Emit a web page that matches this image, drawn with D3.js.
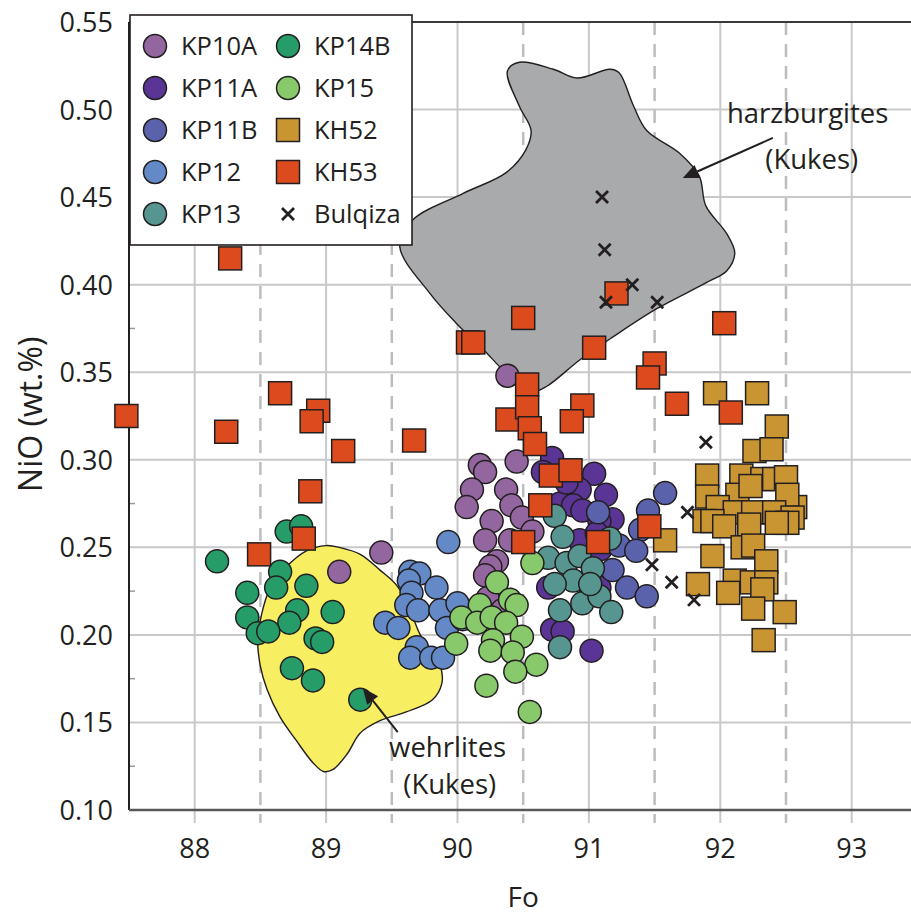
<!DOCTYPE html>
<html>
<head>
<meta charset="utf-8">
<script src="https://cdn.jsdelivr.net/npm/d3@7"></script>
<style>
  body { margin: 0; background: #fff; }
  text { font-family: "Open Sans", "Noto Sans", sans-serif; fill: #231f20; }
</style>
</head>
<body>
<svg id="chart" width="911" height="917"></svg>
<script>
// Olivine compositions: [Fo, NiO wt.%]
const KP10A = [[90.38,0.348],[90.17,0.297],[90.21,0.293],[90.45,0.299],[90.11,0.283],[90.37,0.283],[90.07,0.273],[90.41,0.274],[90.26,0.265],[90.49,0.267],[90.21,0.254],[90.40,0.254],[90.57,0.259],[90.30,0.242],[90.25,0.239],[90.21,0.234],[90.23,0.221],[90.18,0.213],[89.42,0.247],[89.10,0.236],[90.34,0.214]];
const KP11A = [[90.72,0.301],[90.65,0.293],[91.04,0.292],[90.93,0.283],[91.13,0.280],[90.78,0.275],[90.88,0.274],[90.95,0.271],[91.18,0.266],[91.08,0.265],[90.83,0.287],[90.93,0.254],[91.06,0.258],[91.09,0.249],[90.69,0.227],[91.08,0.227],[91.01,0.227],[90.72,0.203],[90.80,0.202],[91.02,0.191]];
const KP11B = [[91.39,0.260],[91.07,0.270],[91.58,0.281],[91.45,0.271],[91.23,0.251],[91.36,0.248],[91.18,0.237],[91.29,0.227],[91.44,0.222]];
const KP12 = [[89.93,0.253],[89.64,0.236],[89.71,0.235],[89.63,0.231],[89.65,0.224],[89.84,0.227],[89.61,0.217],[89.70,0.214],[89.87,0.214],[90.00,0.218],[89.45,0.207],[89.55,0.204],[89.92,0.204],[90.04,0.209],[89.69,0.193],[89.64,0.187],[89.80,0.187],[89.89,0.187]];
const KP13 = [[90.74,0.268],[90.80,0.256],[90.69,0.244],[90.83,0.241],[90.93,0.245],[91.03,0.238],[91.16,0.255],[90.88,0.231],[90.78,0.214],[90.95,0.218],[91.08,0.222],[91.17,0.213],[90.78,0.193],[90.74,0.229],[91.01,0.229]];
const KP14B = [[88.17,0.242],[88.70,0.259],[88.81,0.262],[88.65,0.236],[88.62,0.227],[88.40,0.224],[88.85,0.228],[88.78,0.214],[88.72,0.207],[89.05,0.213],[88.40,0.210],[88.48,0.201],[88.56,0.202],[88.92,0.198],[88.97,0.196],[88.74,0.181],[88.90,0.174],[89.26,0.163]];
const KP15 = [[90.57,0.241],[90.30,0.230],[90.40,0.220],[90.45,0.217],[90.17,0.217],[90.03,0.210],[90.15,0.207],[90.26,0.210],[90.37,0.207],[90.49,0.199],[90.27,0.197],[89.99,0.195],[90.25,0.191],[90.42,0.190],[90.60,0.183],[90.44,0.179],[90.22,0.171],[90.55,0.156]];
const KH52 = [[91.96,0.338],[92.28,0.338],[92.43,0.319],[92.26,0.305],[92.39,0.306],[91.90,0.291],[92.16,0.291],[92.32,0.289],[92.41,0.289],[92.50,0.290],[91.90,0.279],[92.13,0.280],[92.23,0.285],[92.57,0.273],[92.51,0.280],[91.98,0.273],[92.11,0.270],[92.25,0.270],[92.41,0.270],[92.55,0.267],[91.88,0.265],[91.94,0.265],[92.03,0.262],[92.51,0.264],[92.43,0.264],[92.22,0.263],[92.17,0.250],[92.25,0.251],[91.94,0.245],[92.35,0.242],[92.11,0.231],[92.24,0.230],[92.35,0.230],[91.83,0.229],[92.06,0.224],[92.32,0.226],[92.25,0.215],[92.49,0.213],[92.33,0.197],[91.58,0.254]];
const KH53 = [[87.48,0.325],[88.27,0.415],[88.24,0.316],[88.65,0.338],[88.94,0.328],[88.89,0.322],[89.13,0.305],[88.88,0.282],[88.49,0.246],[88.83,0.255],[89.67,0.311],[90.08,0.367],[90.12,0.367],[90.50,0.381],[91.04,0.364],[91.21,0.395],[92.03,0.378],[91.50,0.355],[91.45,0.347],[90.53,0.343],[90.38,0.323],[90.53,0.330],[90.55,0.318],[90.59,0.309],[90.95,0.331],[90.87,0.322],[91.67,0.332],[92.08,0.327],[91.46,0.262],[91.07,0.253],[90.50,0.253],[90.63,0.274],[90.71,0.291],[90.86,0.294]];
const Bulqiza = [[91.10,0.45],[91.12,0.42],[91.33,0.40],[91.13,0.39],[91.52,0.39],[91.89,0.31],[91.75,0.27],[91.48,0.24],[91.63,0.23],[91.80,0.22]];

// Compositional fields of the Kukes peridotites
const harzburgiteField = [[90.38,0.522],[90.47,0.527],[90.73,0.523],[90.91,0.518],[91.16,0.523],[91.23,0.521],[91.34,0.502],[91.44,0.488],[91.69,0.475],[91.84,0.462],[91.89,0.445],[92.05,0.429],[92.11,0.418],[92.05,0.408],[91.89,0.401],[91.51,0.386],[91.18,0.370],[90.93,0.357],[90.68,0.342],[90.58,0.339],[90.45,0.344],[90.17,0.365],[89.99,0.378],[89.79,0.395],[89.56,0.422],[89.66,0.437],[90.04,0.452],[90.37,0.464],[90.52,0.477],[90.56,0.488],[90.47,0.502]];
const wehrliteField = [[89.00,0.251],[88.85,0.248],[88.70,0.239],[88.57,0.226],[88.51,0.212],[88.48,0.197],[88.50,0.182],[88.55,0.169],[88.65,0.153],[88.77,0.140],[88.90,0.127],[88.98,0.122],[89.05,0.123],[89.16,0.132],[89.26,0.144],[89.41,0.151],[89.61,0.156],[89.81,0.163],[89.88,0.172],[89.87,0.182],[89.79,0.191],[89.71,0.201],[89.64,0.214],[89.54,0.228],[89.41,0.237],[89.26,0.246],[89.10,0.250]];

// Axis ticks
const xTicks = [88, 89, 90, 91, 92, 93];
const xHalfTicks = [88.5, 89.5, 90.5, 91.5, 92.5];
const yTicks = [0.10, 0.15, 0.20, 0.25, 0.30, 0.35, 0.40, 0.45, 0.50, 0.55];
const yMinorTicks = [0.125, 0.175, 0.225, 0.275, 0.325, 0.375, 0.425, 0.475, 0.525];

const series = [
  { name: "KP10A", data: KP10A, shape: "circle", color: "#94669f" },
  { name: "KP11A", data: KP11A, shape: "circle", color: "#5b3596" },
  { name: "KP11B", data: KP11B, shape: "circle", color: "#5a62ab" },
  { name: "KP12",  data: KP12,  shape: "circle", color: "#6389c7" },
  { name: "KP13",  data: KP13,  shape: "circle", color: "#579690" },
  { name: "KP14B", data: KP14B, shape: "circle", color: "#269c69" },
  { name: "KP15",  data: KP15,  shape: "circle", color: "#88c96b" },
  { name: "KH52",  data: KH52,  shape: "square", color: "#c99532" },
  { name: "KH53",  data: KH53,  shape: "square", color: "#dc4b1e" },
  { name: "Bulqiza", data: Bulqiza, shape: "cross", color: "#231f20" }
];

const W = 911, H = 917;
const svg = d3.select("#chart");
const x = d3.scaleLinear().domain([87.5, 93.5]).range([129, 917.4]);
const y = d3.scaleLinear().domain([0.10, 0.55]).range([810, 22]);
const plotLeft = x.range()[0], plotBottom = y.range()[0], plotTop = y.range()[1];

// Gridlines
const grid = svg.append("g");
grid.selectAll(".hg").data(yTicks.slice(1)).join("line")
  .attr("x1", plotLeft).attr("x2", W).attr("y1", d => y(d)).attr("y2", d => y(d))
  .attr("stroke", "#c9c9cb").attr("stroke-width", 2);
grid.selectAll(".vg").data(xTicks).join("line")
  .attr("x1", d => x(d)).attr("x2", d => x(d)).attr("y1", plotTop).attr("y2", plotBottom + 13)
  .attr("stroke", "#c9c9cb").attr("stroke-width", 2);
grid.selectAll(".vd").data(xHalfTicks).join("line")
  .attr("x1", d => x(d)).attr("x2", d => x(d)).attr("y1", plotTop).attr("y2", plotBottom + 13)
  .attr("stroke", "#bdbdc0").attr("stroke-width", 2.5).attr("stroke-dasharray", "13,9");

// Minor ticks on the NiO axis
svg.selectAll(".ymin").data(yMinorTicks).join("line")
  .attr("x1", plotLeft).attr("x2", plotLeft + 6).attr("y1", d => y(d)).attr("y2", d => y(d))
  .attr("stroke", "#9a9a9a").attr("stroke-width", 1.5);

// Fields
const fieldLine = d3.line().x(d => x(d[0])).y(d => y(d[1])).curve(d3.curveCatmullRomClosed.alpha(0.5));
svg.append("path").attr("d", fieldLine(harzburgiteField))
  .attr("fill", "#a9aaac").attr("stroke", "#231f20").attr("stroke-width", 1.4);
svg.append("path").attr("d", fieldLine(wehrliteField))
  .attr("fill", "#f7ee62").attr("stroke", "#231f20").attr("stroke-width", 1.4);

// Frame
svg.append("line").attr("x1", plotLeft).attr("x2", W).attr("y1", plotTop).attr("y2", plotTop)
  .attr("stroke", "#3a3a3a").attr("stroke-width", 2);
svg.append("line").attr("x1", plotLeft).attr("x2", plotLeft).attr("y1", plotTop).attr("y2", plotBottom)
  .attr("stroke", "#231f20").attr("stroke-width", 2);
svg.append("line").attr("x1", plotLeft).attr("x2", W).attr("y1", plotBottom).attr("y2", plotBottom)
  .attr("stroke", "#58585a").attr("stroke-width", 2.5);

// Markers
const R = 11.5, S = 23, C = 6;
function drawMarker(sel, shape, color) {
  if (shape === "circle") {
    sel.append("circle").attr("r", R).attr("fill", color)
      .attr("stroke", "#231f20").attr("stroke-width", 1.5);
  } else if (shape === "square") {
    sel.append("rect").attr("x", -S / 2).attr("y", -S / 2).attr("width", S).attr("height", S)
      .attr("fill", color).attr("stroke", "#231f20").attr("stroke-width", 1.5);
  } else {
    sel.append("path").attr("d", `M${-C},${-C}L${C},${C}M${-C},${C}L${C},${-C}`)
      .attr("stroke", color).attr("stroke-width", 2.8).attr("fill", "none");
  }
}
series.forEach(s => {
  svg.append("g").selectAll("g").data(s.data).join("g")
    .attr("transform", d => `translate(${x(d[0])},${y(d[1])})`)
    .each(function () { drawMarker(d3.select(this), s.shape, s.color); });
});

// Axis labels
svg.selectAll(".yl").data(yTicks).join("text")
  .attr("x", 113).attr("y", d => y(d) + 10).attr("text-anchor", "end")
  .attr("font-size", 27).text(d => d.toFixed(2));
svg.selectAll(".xl").data(xTicks).join("text")
  .attr("x", d => x(d)).attr("y", 858).attr("text-anchor", "middle")
  .attr("font-size", 27).text(d => d);
svg.append("text").attr("x", x(90.5)).attr("y", 907).attr("text-anchor", "middle")
  .attr("font-size", 28).text("Fo");
svg.append("text").attr("transform", `translate(42,${y(0.326)}) rotate(-90)`)
  .attr("text-anchor", "middle").attr("font-size", 32).text("NiO (wt.%)");

// Field annotations
function arrow(from, to) {
  const x1 = x(from[0]), y1 = y(from[1]), x2 = x(to[0]), y2 = y(to[1]);
  const a = Math.atan2(y2 - y1, x2 - x1), L = 16, Wd = 7;
  const bx = x2 - L * Math.cos(a), by = y2 - L * Math.sin(a);
  svg.append("line").attr("x1", x1).attr("y1", y1).attr("x2", bx).attr("y2", by)
    .attr("stroke", "#231f20").attr("stroke-width", 2);
  svg.append("path")
    .attr("d", `M${x2},${y2}L${bx + Wd * Math.sin(a)},${by - Wd * Math.cos(a)}L${bx - Wd * Math.sin(a)},${by + Wd * Math.cos(a)}Z`)
    .attr("fill", "#231f20");
}
svg.append("text").attr("x", x(92.665)).attr("y", y(0.4923)).attr("text-anchor", "middle")
  .attr("font-size", 27.5).text("harzburgites");
svg.append("text").attr("x", x(92.696)).attr("y", y(0.466)).attr("text-anchor", "middle")
  .attr("font-size", 27.5).text("(Kukes)");
arrow([92.40, 0.4838], [91.714, 0.4609]);
svg.append("text").attr("x", x(89.925)).attr("y", y(0.1303)).attr("text-anchor", "middle")
  .attr("font-size", 27.5).text("wehrlites");
svg.append("text").attr("x", x(89.941)).attr("y", y(0.1091)).attr("text-anchor", "middle")
  .attr("font-size", 27.5).text("(Kukes)");
arrow([89.545, 0.1445], [89.279, 0.1697]);

// Legend
const lg = svg.append("g");
lg.append("rect").attr("x", 130).attr("y", 15).attr("width", 282).attr("height", 230)
  .attr("fill", "#fff").attr("stroke", "#231f20").attr("stroke-width", 1.6);
const rowsPerCol = 5;
series.forEach((s, i) => {
  const col = Math.floor(i / rowsPerCol), row = i % rowsPerCol;
  const g = lg.append("g").attr("transform", `translate(${155 + col * 133},${46 + row * 42})`);
  drawMarker(g, s.shape, s.color);
  lg.append("text").attr("x", 181 + col * 133).attr("y", 46 + row * 42 + 9)
    .attr("font-size", 25.5).text(s.name);
});
</script>
</body>
</html>
